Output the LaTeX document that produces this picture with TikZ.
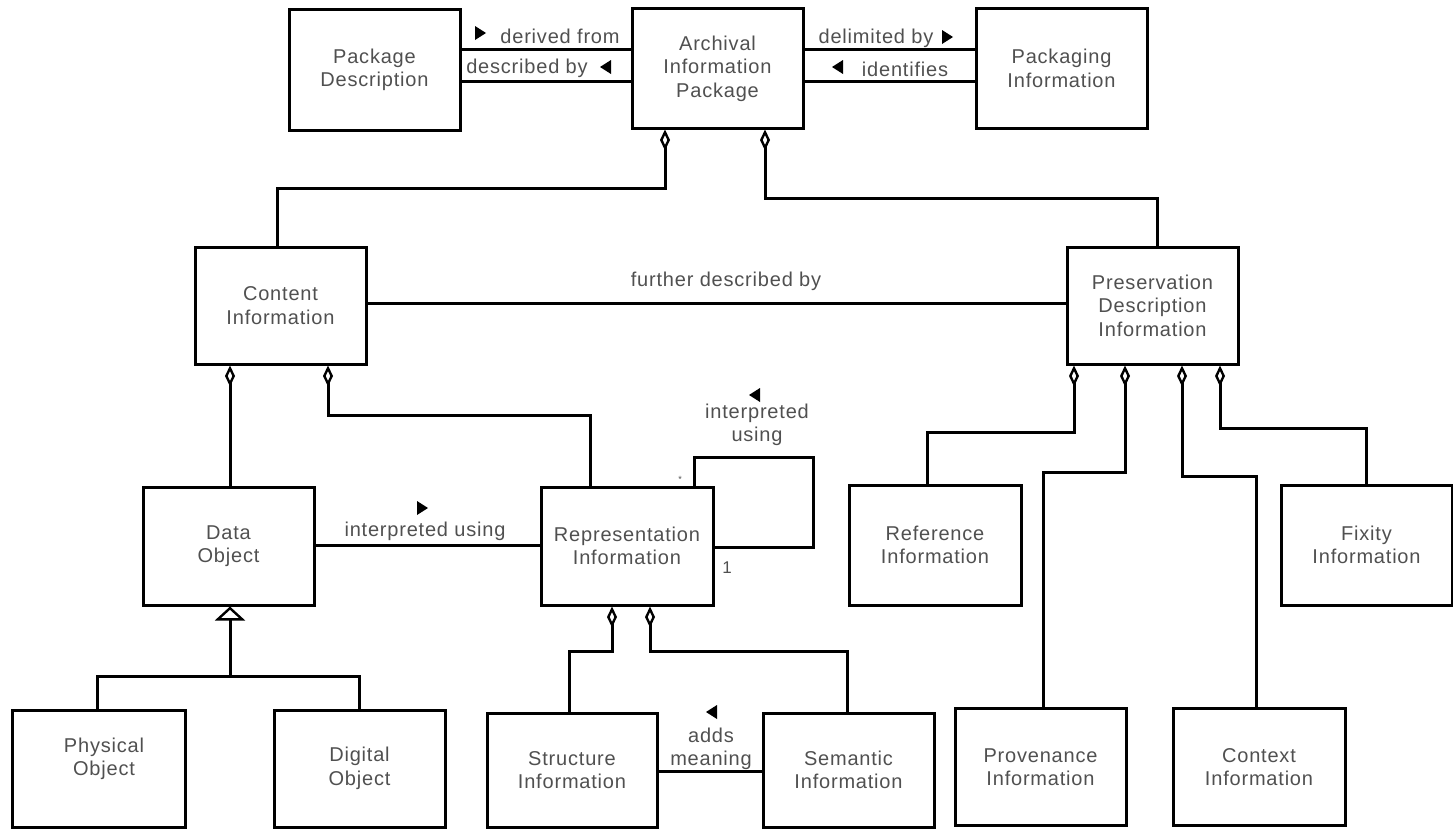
\documentclass[tikz,border=0pt]{standalone}
\usepackage{fontspec}
\setmainfont{Liberation Sans}[LetterSpace=4]
\usetikzlibrary{arrows.meta}
\definecolor{txt}{HTML}{505050}
\tikzset{
  box/.style={draw, line width=3bp, inner sep=0pt, align=center, text=txt,
    font=\fontsize{20bp}{23.5bp}\selectfont},
  lbl/.style={inner sep=0pt, align=center, text=txt, font=\fontsize{20bp}{23.5bp}\selectfont},
  conn/.style={line width=3bp},
  agg/.style={{Diamond[open, length=21bp, width=10bp, line width=2.4bp]}-},
  gen/.style={{Triangle[open, length=14bp, width=30bp, line width=2.4bp]}-},
  tri/.style={fill=black}
}
\newcommand\rtri[2]{\fill[tri] (#1,#2) ++(-5,-7) -- ++(11,7) -- ++(-11,7) -- cycle;}
\newcommand\ltri[2]{\fill[tri] (#1,#2) ++(5,-7) -- ++(-11,7) -- ++(11,7) -- cycle;}
\begin{document}
\begin{tikzpicture}[x=1bp,y=-1bp]
\useasboundingbox (0,0) rectangle (1453,829);
% boxes
\node[box, minimum width=171bp, minimum height=120bp] (pd) at (374.5,70) {Package\\Description};
\node[box, minimum width=171bp, minimum height=119bp] (aip) at (717.5,68.5) {Archival\\Information\\Package};
\node[box, minimum width=171bp, minimum height=119bp] (pki) at (1061.5,68.5) {Packaging\\Information};
\node[box, minimum width=171bp, minimum height=117bp] (ci) at (280.5,305.5) {Content\\Information};
\node[box, minimum width=171bp, minimum height=117bp] (pdi) at (1152.5,305.5) {Preservation\\Description\\Information};
\node[box, minimum width=171bp, minimum height=118bp] (do) at (228.5,546) {Data\\Object};
\node[box, minimum width=172bp, minimum height=118bp] (ri) at (627,546) {Representation\\Information};
\node[box, minimum width=172bp, minimum height=120bp] (ref) at (935,545) {Reference\\Information};
\node[box, minimum width=171bp, minimum height=120bp] (fix) at (1366.5,545) {Fixity\\Information};
\node[box, minimum width=172bp, minimum height=117bp] (phys) at (99,768.5) {};
\node[lbl] (physt) at (104,759) {Physical\\Object};
\node[box, minimum width=171bp, minimum height=117bp] (dig) at (359.5,768.5) {Digital\\Object};
\node[box, minimum width=170bp, minimum height=114bp] (str) at (572,770) {Structure\\Information};
\node[box, minimum width=171bp, minimum height=114bp] (sem) at (848.5,770) {Semantic\\Information};
\node[box, minimum width=171bp, minimum height=117bp] (prov) at (1040.5,767) {Provenance\\Information};
\node[box, minimum width=172bp, minimum height=117bp] (ctx) at (1259,767) {Context\\Information};
% top associations
\draw[conn] (pd.east |- 0,49) -- (aip.west |- 0,49);
\draw[conn] (pd.east |- 0,81) -- (aip.west |- 0,81);
\draw[conn] (aip.east |- 0,49) -- (pki.west |- 0,49);
\draw[conn] (aip.east |- 0,81) -- (pki.west |- 0,81);
\node[lbl] (l1) at (560,36) {derived from};
\rtri{480}{33}
\node[lbl] (l2) at (527,68) {described by};
\ltri{606}{67}
\node[lbl] (l3) at (876,38) {delimited by};
\rtri{947}{37}
\node[lbl] (l4) at (905,69) {identifies};
\ltri{838}{67}
% AIP aggregation
\draw[conn, agg] (aip.south -| 665,0) -- (665,188) -| (ci.north -| 277,0);
\draw[conn, agg] (aip.south -| 765,0) -- (765,198) -| (pdi.north -| 1157,0);
% further described by
\draw[conn] (ci.east |- 0,303) -- (pdi.west |- 0,303);
\node[lbl] (l5) at (726,281) {further described by};
% content information aggregation
\draw[conn, agg] (ci.south -| 230,0) -- (do.north -| 230,0);
\draw[conn, agg] (ci.south -| 328,0) -- (328,415) -| (ri.north -| 590,0);
% data object - rep info
\draw[conn] (do.east |- 0,545) -- (ri.west |- 0,545);
\node[lbl] (l6) at (425,531) {interpreted using};
\rtri{422}{508}
% self loop
\draw[conn] (ri.north -| 694,0) -- (694,457) -- (813,457) -- (813,547) -- (ri.east |- 0,547);
\node[lbl] (l7) at (757,425) {interpreted\\using};
\ltri{755}{395}
\node[lbl] (star) at (680,479) {\fontsize{9bp}{9bp}\selectfont *};
\node[lbl] (one) at (727,568) {\fontsize{17bp}{17bp}\selectfont 1};
% generalization
\draw[conn, gen] (do.south -| 230,0) -- (230,676);
\draw[conn] (phys.north -| 97,0) -- (97,676) -- (359,676) -- (dig.north -| 359,0);
% rep info aggregation
\draw[conn, agg] (ri.south -| 612,0) -- (612,651) -| (str.north -| 569,0);
\draw[conn, agg] (ri.south -| 650,0) -- (650,651) -| (sem.north -| 847,0);
\draw[conn] (str.east |- 0,771) -- (sem.west |- 0,771);
\node[lbl] (l8) at (711,749) {adds\\meaning};
\ltri{712}{712}
% PDI aggregation
\draw[conn, agg] (pdi.south -| 1074,0) -- (1074,432) -| (ref.north -| 927,0);
\draw[conn, agg] (pdi.south -| 1125,0) -- (1125,472) -| (prov.north -| 1043,0);
\draw[conn, agg] (pdi.south -| 1182,0) -- (1182,476) -| (ctx.north -| 1256,0);
\draw[conn, agg] (pdi.south -| 1220,0) -- (1220,428) -| (fix.north -| 1366,0);
\end{tikzpicture}
\end{document}
